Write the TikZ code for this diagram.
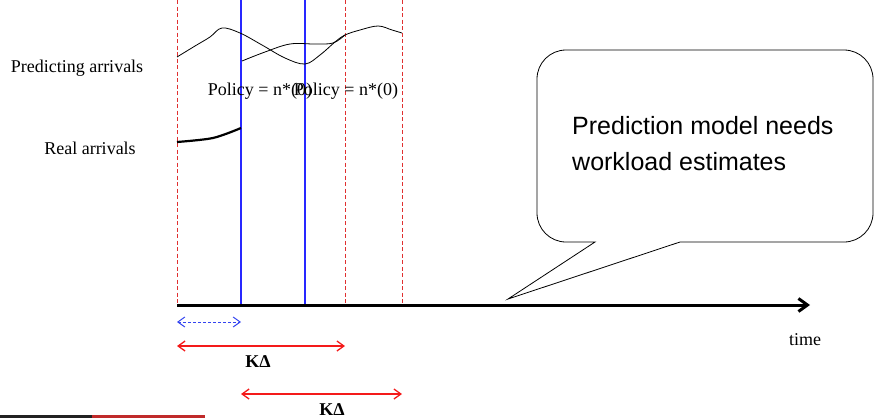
\documentclass[tikz,border=0pt]{standalone}
\usepackage{fontspec}
\setmainfont{Liberation Serif}
\newfontfamily\balonYazi{Liberation Sans}
\usetikzlibrary{arrows.meta,positioning}
\definecolor{kesikKirmizi}{HTML}{E03030}
\definecolor{cizgiMavi}{RGB}{40,40,255}
\definecolor{okKirmizi}{HTML}{F41A1A}
\definecolor{okMavi}{HTML}{3344F0}
\definecolor{koyuKirmizi}{HTML}{C02A2A}
\definecolor{koyuGri}{HTML}{222222}

\begin{document}
\begin{tikzpicture}[x=1pt,y=-1pt,
  etiket/.style={font=\fontsize{18}{21}\selectfont,inner sep=0pt},
  kesik/.style={color=kesikKirmizi,line width=0.9pt,dash pattern=on 4pt off 2.5pt},
  maviCizgi/.style={color=cizgiMavi,line width=1.1pt},
  ciftOk/.style={line width=1.3pt,{Straight Barb[length=7pt,width=10pt]}-{Straight Barb[length=7pt,width=10pt]}}]
\useasboundingbox (0,0) rectangle (874,418);
\coordinate (k0) at (177,0);   \coordinate (k0a) at (177,305);
\coordinate (m1) at (241,0);   \coordinate (m1a) at (241,305);
\coordinate (m2) at (305,0);   \coordinate (m2a) at (305,305);
\coordinate (k1) at (345,0);   \coordinate (k1a) at (345,305);
\coordinate (k2) at (402,0);   \coordinate (k2a) at (402,305);
\coordinate (zamanUcu) at (810,305);
\draw[kesik] (k0)--(k0a);
\draw[kesik] (k1)--(k1a);
\draw[kesik] (k2)--(k2a);
\draw[maviCizgi] (m1)--(m1a);
\draw[maviCizgi] (m2)--(m2a);
\draw[line width=3pt,-{Straight Barb[length=9pt,width=13pt]}] (k0a)--(zamanUcu);
\node[etiket] (zaman) at (805,340) {time};
\node[etiket] (tahmin) at (77,68) {Predicting arrivals};
\node[etiket] (gercek) at (90,148) {Real arrivals};
\draw[line width=0.8pt] plot[smooth,tension=0.6] coordinates {(177,57) (195,46) (210,37) (222,28) (240,33) (262,45) (285,58) (305,64) (320,55) (335,42) (345,35) (360,30) (378,26) (392,30) (402,33)};
\draw[line width=0.8pt] plot[smooth,tension=0.6] coordinates {(242,61) (265,52) (290,44) (315,44) (333,43) (345,35)};
\draw[line width=2.2pt] plot[smooth] coordinates {(177,142) (213,138) (241,128)};
\node[etiket] (politika1) at (260,91) {Policy = n*(0)};
\node[etiket] (politika2) at (346,91) {Policy = n*(0)};
\coordinate (o1) at (177,322); \coordinate (o2) at (241,322);
\coordinate (o3) at (177,346); \coordinate (o4) at (345,346);
\coordinate (o5) at (241,394); \coordinate (o6) at (402,394);
\draw[ciftOk,okMavi,line width=1pt,dash pattern=on 3pt off 2pt] (o1)--(o2);
\draw[ciftOk,okKirmizi] (o3)--(o4);
\draw[ciftOk,okKirmizi] (o5)--(o6);
\node[etiket,font=\fontsize{18}{21}\selectfont\bfseries] (kd1) at (258,362) {KΔ};
\node[etiket,font=\fontsize{18}{21}\selectfont\bfseries] (kd2) at (332,410) {KΔ};
\draw[koyuGri,line width=2.6pt] (0,416.7)--(92,416.7);
\draw[koyuKirmizi,line width=2.6pt] (92,416.7)--(205,416.7);
\draw[line width=0.8pt] (680,242) [rounded corners=29] -- (873,242) -- (873,50) -- (537,50) -- (537,242) [sharp corners] -- (595,242) -- (508,299) -- cycle;
\node[anchor=west,align=left,inner sep=0pt,font=\balonYazi\fontsize{25}{36}\selectfont] (balon) at (572,144) {Prediction model needs\\workload estimates};
\end{tikzpicture}
\end{document}
